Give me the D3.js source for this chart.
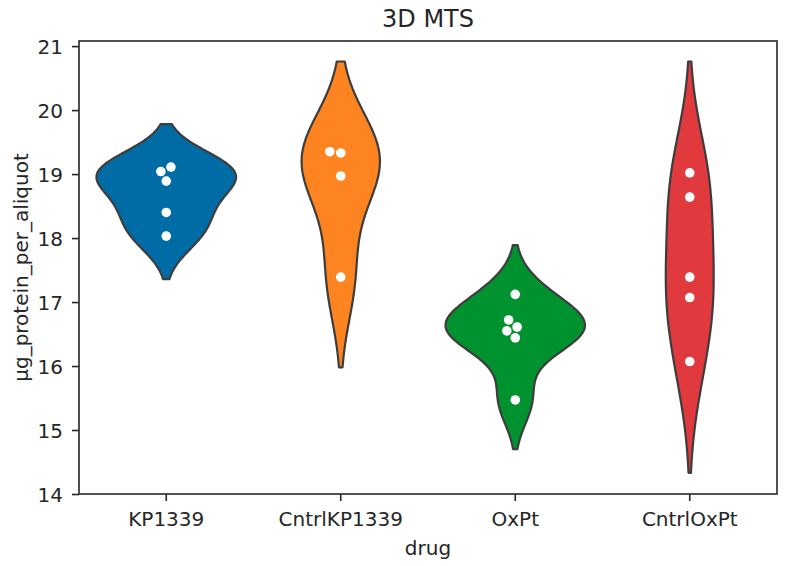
<!DOCTYPE html>
<html>
<head>
<meta charset="utf-8">
<script src="https://cdn.jsdelivr.net/npm/d3@7"></script>
<style>
  body { margin: 0; background: #fff; }
  svg { font-family: "DejaVu Sans", sans-serif; }
</style>
</head>
<body>
<svg id="chart" width="785" height="566"></svg>
<script>
// data
const drugs = ['KP1339', 'CntrlKP1339', 'OxPt', 'CntrlOxPt'];
const kp1339 = [19.11, 19.04, 18.89, 18.40, 18.03];
const cntrlKp1339 = [19.35, 19.33, 18.97, 17.39];
const oxpt = [17.12, 16.72, 16.61, 16.55, 16.44, 15.47];
const cntrlOxpt = [19.02, 18.64, 17.39, 17.07, 16.07];
const colors = ['#006ca5', '#fd8420', '#00922e', '#e0393e'];
const yTicks = [14, 15, 16, 17, 18, 19, 20, 21];
const yDomain = [14, 21.08];

const groups = [kp1339, cntrlKp1339, oxpt, cntrlOxpt];

const pLeft = 79, pRight = 777, pTop = 41, pBottom = 494;
const svg = d3.select('#chart');

const x = d3.scaleBand().domain(drugs).range([pLeft, pRight]);
const y = d3.scaleLinear().domain(yDomain).range([pBottom, pTop]);

// gaussian kde, scott bandwidth (like seaborn), cut=2, 100 grid points
function kde(vals) {
  const n = vals.length;
  const bw = d3.deviation(vals) * Math.pow(n, -1 / 5);
  const lo = d3.min(vals) - 2 * bw, hi = d3.max(vals) + 2 * bw;
  const grid = d3.range(100).map((i) => lo + (hi - lo) * i / 99);
  return grid.map((g) => {
    let s = 0;
    vals.forEach((v) => {
      const z = (g - v) / bw;
      s += Math.exp(-0.5 * z * z);
    });
    return { v: g, d: s / (n * bw * Math.sqrt(2 * Math.PI)) };
  });
}

const dens = groups.map(kde);
const maxD = d3.max(dens, (a) => d3.max(a, (p) => p.d));
const half = x.bandwidth() * 0.8 / 2;

const plot = svg.append('g');

dens.forEach((dd, i) => {
  const cx = x(drugs[i]) + x.bandwidth() / 2;
  const area = d3.area()
    .y((p) => y(p.v))
    .x0((p) => cx - half * p.d / maxD)
    .x1((p) => cx + half * p.d / maxD);
  plot.append('path')
    .attr('d', area(dd))
    .attr('fill', colors[i])
    .attr('stroke', '#3d3d3d')
    .attr('stroke-width', 2.2)
    .attr('stroke-linejoin', 'round');
});

// simple beeswarm
function swarm(vals, diam) {
  const pts = vals.map((v) => ({ v: v, py: y(v), dx: 0 })).sort((a, b) => a.v - b.v);
  const placed = [];
  pts.forEach((p) => {
    let cands = [0];
    placed.forEach((q) => {
      const dy = Math.abs(p.py - q.py);
      if (dy < diam) {
        const w = Math.sqrt(diam * diam - dy * dy);
        cands.push(q.dx - w, q.dx + w);
      }
    });
    cands.sort((a, b) => Math.abs(a) - Math.abs(b) || a - b);
    for (const c of cands) {
      const ok = placed.every((q) => (c - q.dx) ** 2 + (p.py - q.py) ** 2 >= diam * diam - 0.01);
      if (ok) { p.dx = c; break; }
    }
    placed.push(p);
  });
  return pts;
}

groups.forEach((vals, i) => {
  const cx = x(drugs[i]) + x.bandwidth() / 2;
  plot.selectAll(null)
    .data(swarm(vals, 11))
    .enter()
    .append('circle')
    .attr('cx', (d) => cx + d.dx)
    .attr('cy', (d) => d.py)
    .attr('r', 4.8)
    .attr('fill', '#fff');
});

// axes
const yAxis = svg.append('g')
  .attr('transform', 'translate(' + pLeft + ',0)')
  .call(d3.axisLeft(y).tickValues(yTicks).tickSize(7).tickPadding(9).tickSizeOuter(0));
const xAxis = svg.append('g')
  .attr('transform', 'translate(0,' + pBottom + ')')
  .call(d3.axisBottom(x).tickSize(7).tickPadding(10).tickSizeOuter(0));

[yAxis, xAxis].forEach((ax) => {
  ax.select('.domain').remove();
  ax.selectAll('line').attr('stroke', '#262626').attr('stroke-width', 1.6);
  ax.selectAll('text').attr('font-size', 20).attr('fill', '#262626')
    .attr('font-family', '"DejaVu Sans", sans-serif');
});
yAxis.selectAll('text').attr('dy', '0.36em');
xAxis.selectAll('text').attr('dy', '0.76em');

// frame
svg.append('rect')
  .attr('x', pLeft).attr('y', pTop)
  .attr('width', pRight - pLeft).attr('height', pBottom - pTop)
  .attr('fill', 'none')
  .attr('stroke', '#262626')
  .attr('stroke-width', 1.6);

svg.append('text')
  .attr('x', (pLeft + pRight) / 2).attr('y', 27)
  .attr('text-anchor', 'middle')
  .attr('font-size', 24).attr('fill', '#262626')
  .text('3D MTS');

svg.append('text')
  .attr('x', (pLeft + pRight) / 2).attr('y', 555)
  .attr('text-anchor', 'middle')
  .attr('font-size', 20).attr('fill', '#262626')
  .text('drug');

svg.append('text')
  .attr('transform', 'translate(28,' + (pTop + pBottom) / 2 + ') rotate(-90)')
  .attr('text-anchor', 'middle')
  .attr('font-size', 20).attr('fill', '#262626')
  .text('µg_protein_per_aliquot');
</script>
</body>
</html>
